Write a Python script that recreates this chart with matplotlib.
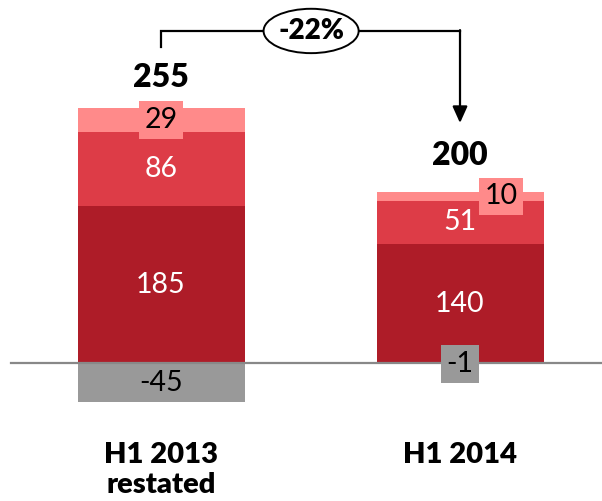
import numpy as np
import matplotlib
matplotlib.use('Agg')
import matplotlib.pyplot as plt
from matplotlib.patches import Ellipse

plt.rcParams['font.family'] = ['Lato', 'DejaVu Sans']

# Data
categories = ['H1 2013\nrestated', 'H1 2014']
other = [-45, -1]        # grey, below zero
core = [185, 140]        # dark red
mid = [86, 51]           # medium red
top = [29, 10]           # light red
totals = [255, 200]
change_label = '-22%'

c_grey = '#999999'
c_dark = '#AE1C28'
c_mid = '#DD3C47'
c_light = '#FF8A8A'

fig = plt.figure(figsize=(6.02, 5.01), dpi=100)
ax = fig.add_axes([0, 0, 1, 1])
ax.set_xlim(-0.5385, 1.4749)
ax.set_ylim(-161.2, 426.1)
ax.axis('off')

x = np.arange(len(categories))
w = 0.5585

core = np.array(core)
mid = np.array(mid)
top = np.array(top)
ax.bar(x, other, w, color=c_grey, zorder=2)
ax.bar(x, core, w, color=c_dark, zorder=2)
ax.bar(x, mid, w, bottom=core, color=c_mid, zorder=2)
ax.bar(x, top, w, bottom=core + mid, color=c_light, zorder=2)

ax.axhline(0, xmin=11 / 602, xmax=1, color='#888888', lw=1.6, zorder=3)

fs = 20.5
bold = 'heavy'
box_pad = 'square,pad=0.2'
# segment labels
for i in range(len(x)):
    ax.text(x[i], core[i] / 2, str(core[i]), ha='center', va='center',
            color='white', fontsize=fs, zorder=5)
    ax.text(x[i], core[i] + mid[i] / 2, str(mid[i]), ha='center', va='center',
            color='white', fontsize=fs, zorder=5)

# small segments get a boxed label
ax.text(x[0], core[0] + mid[0] + top[0] / 2, str(top[0]), ha='center', va='center',
        color='black', fontsize=fs, zorder=5,
        bbox=dict(boxstyle=box_pad, fc=c_light, ec='none'))
ax.text(x[1] + 0.137, core[1] + mid[1] + top[1] / 2, str(top[1]), ha='center', va='center',
        color='black', fontsize=fs, zorder=5,
        bbox=dict(boxstyle=box_pad, fc=c_light, ec='none'))
ax.text(x[0], other[0] / 2, str(other[0]), ha='center', va='center',
        color='black', fontsize=fs, zorder=5)
ax.text(x[1], other[1] / 2, str(other[1]), ha='center', va='center',
        color='black', fontsize=fs, zorder=5,
        bbox=dict(boxstyle=box_pad, fc=c_grey, ec='none'))

# totals
pos_top = core + mid + top
ax.text(x[0], pos_top[0] + 35, str(totals[0]), ha='center', va='center',
        fontsize=23, fontweight=bold, zorder=5)
ax.text(x[1], pos_top[1] + 43, str(totals[1]), ha='center', va='center',
        fontsize=23, fontweight=bold, zorder=5)

# category labels
for i, lab in enumerate(categories):
    ax.text(x[i], -92, lab, ha='center', va='top', fontsize=21,
            fontweight=bold, linespacing=1.2)

# change arrow
y_line = 389.8
ax.plot([x[0], x[0], x[1]], [371.4, y_line, y_line], color='black', lw=1.6,
        solid_joinstyle='miter', zorder=4)
ax.annotate('', xy=(x[1], 281.9), xytext=(x[1], y_line + 1),
            arrowprops=dict(arrowstyle='-|>,head_width=0.45,head_length=1.0',
                            color='black', lw=1.6, shrinkA=0, shrinkB=0),
            zorder=4)
ax.add_patch(Ellipse((0.502, y_line), 0.318, 52, fc='white', ec='black',
                     lw=1.4, zorder=5))
ax.text(0.502, y_line, change_label, ha='center', va='center', fontsize=20,
        fontweight=bold, zorder=6)

fig.savefig('out.png', dpi=100)
